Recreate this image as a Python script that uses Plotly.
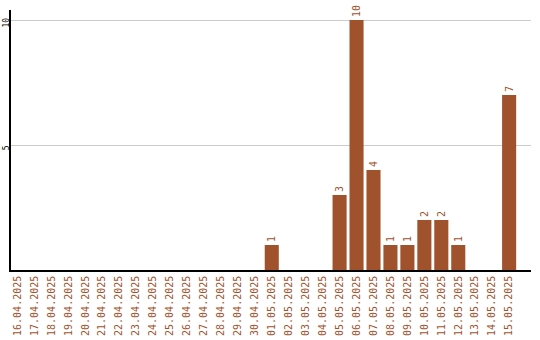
import plotly.graph_objects as go

dates = ["16.04.2025", "17.04.2025", "18.04.2025", "19.04.2025", "20.04.2025",
         "21.04.2025", "22.04.2025", "23.04.2025", "24.04.2025", "25.04.2025",
         "26.04.2025", "27.04.2025", "28.04.2025", "29.04.2025", "30.04.2025",
         "01.05.2025", "02.05.2025", "03.05.2025", "04.05.2025", "05.05.2025",
         "06.05.2025", "07.05.2025", "08.05.2025", "09.05.2025", "10.05.2025",
         "11.05.2025", "12.05.2025", "13.05.2025", "14.05.2025", "15.05.2025"]
values = [0, 0, 0, 0, 0, 0, 0, 0, 0, 0, 0, 0, 0, 0, 0,
          1, 0, 0, 0, 3, 10, 4, 1, 1, 2, 2, 1, 0, 0, 7]
y_ticks = [5, 10]

color = "#A0522D"
font = "DejaVu Sans Mono"

labels = [str(v) if v else "" for v in values]

fig = go.Figure(go.Bar(
    x=dates, y=values, text=labels, textposition="outside",
    textangle=-90, constraintext="none", cliponaxis=False,
    textfont=dict(family=font, size=10, color=color),
    marker=dict(color=color, line=dict(width=0)),
    width=0.83,
))

fig.update_layout(
    width=540, height=340,
    margin=dict(l=11, r=9, t=10, b=70),
    plot_bgcolor="white", paper_bgcolor="white",
    showlegend=False,
    xaxis=dict(
        type="category", range=[-0.38, 30.29],
        tickangle=-90, tickfont=dict(family=font, size=10, color=color),
        showline=True, linecolor="black", linewidth=1.5,
        showgrid=False, ticks="", automargin=False,
    ),
    yaxis=dict(
        range=[0, 10.4], tickvals=y_ticks, ticktext=[str(t) for t in y_ticks],
        tickangle=-90, tickfont=dict(family=font, size=8, color="black"),
        showline=True, linecolor="black", linewidth=1.5,
        showgrid=True, gridcolor="#cccccc", gridwidth=1,
        zeroline=False, ticks="", ticklabelstandoff=-3, ticklabelshift=4,
        automargin=False,
    ),
)

fig.write_html("out.html")
